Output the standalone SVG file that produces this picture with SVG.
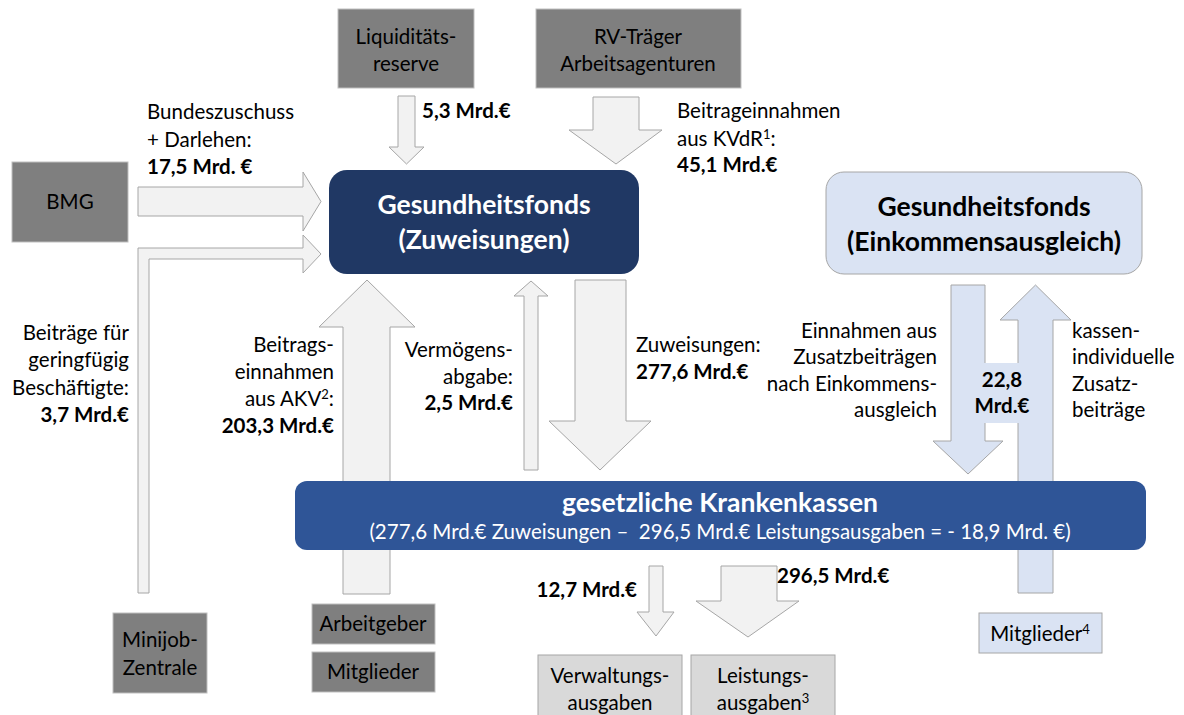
<svg xmlns="http://www.w3.org/2000/svg" width="1184" height="715" viewBox="0 0 1184 715">
  <style>
    text { font-family: Lato, "Liberation Sans", sans-serif; font-size: 20.5px; fill: #000; }
    .b { font-weight: bold; }
    .c { text-anchor: middle; }
    .r { text-anchor: end; }
    .w { fill: #fff; }
    .h { font-size: 26.5px; font-weight: bold; }
    .sup { font-size: 13px; }
    .arrow { fill: #f2f2f2; stroke: #a6a6a6; stroke-width: 1; }
    .arrowb { fill: #dae3f3; stroke: #a6a6a6; stroke-width: 1; }
    .grey { fill: #7f7f7f; stroke: #bfbfbf; stroke-width: 1; }
    .light { fill: #d9d9d9; stroke: #a6a6a6; stroke-width: 1; }
    .pale { fill: #dae3f3; stroke: #a6a6a6; stroke-width: 1; }
  </style>

  <!-- flow arrows -->
  <g id="connectors">
    <polygon class="arrow" points="138,187 303,187 303,172 321,201.5 303,231 303,216 138,216"/>
    <polygon class="arrow" points="138,593 138,248 303,248 303,235 321,254 303,273 303,259 149,259 149,593"/>
    <polygon class="arrow" points="398,96 415,96 415,147 424,147 406.5,164 389,147 398,147"/>
    <polygon class="arrow" points="593,97 639,97 639,130 662,130 616,164 569,130 593,130"/>
    <polygon class="arrow" points="343,594 343,327 319,327 367,280 415,327 390,327 390,594"/>
    <polygon class="arrow" points="524,470 524,296 514,296 531,281 548,296 538,296 538,470"/>
    <polygon class="arrow" points="575,280 626,280 626,421 651,421 600,470 549,421 575,421"/>
    <polygon class="arrow" points="649,566 663,566 663,612 674,612 656,636 637,612 649,612"/>
    <polygon class="arrow" points="721,566 777,566 777,601 799,601 748,637 696,601 721,601"/>
    <polygon class="arrowb" points="951,285 985,285 985,441 1003,441 968,474 933,441 951,441"/>
    <polygon class="arrowb" points="1018,593 1018,320 1000,320 1035.5,285 1071,320 1053,320 1053,593"/>
    <rect x="976" y="363" width="52" height="60" fill="#dae3f3"/>

    <!-- flow labels -->
    <text x="147" y="119">Bundeszuschuss</text>
    <text x="147" y="147">+ Darlehen:</text>
    <text x="147" y="174" class="b">17,5 Mrd. €</text>

    <text x="422" y="118" class="b">5,3 Mrd.€</text>

    <text x="677" y="118">Beitrageinnahmen</text>
    <text x="677" y="146">aus KVdR<tspan class="sup" dy="-7">1</tspan><tspan dy="7">:</tspan></text>
    <text x="677" y="172" class="b">45,1 Mrd.€</text>

    <text x="129" y="340" class="r">Beiträge für</text>
    <text x="129" y="367" class="r">geringfügig</text>
    <text x="129" y="395" class="r">Beschäftigte:</text>
    <text x="129" y="422" class="r b">3,7 Mrd.€</text>

    <text x="334" y="352" class="r">Beitrags-</text>
    <text x="334" y="379" class="r">einnahmen</text>
    <text x="334" y="406" class="r">aus AKV<tspan class="sup" dy="-7">2</tspan><tspan dy="7">:</tspan></text>
    <text x="334" y="433" class="r b">203,3 Mrd.€</text>

    <text x="513" y="357" class="r">Vermögens-</text>
    <text x="513" y="384" class="r">abgabe:</text>
    <text x="513" y="410" class="r b">2,5 Mrd.€</text>

    <text x="636" y="352">Zuweisungen:</text>
    <text x="636" y="379" class="b">277,6 Mrd.€</text>

    <text x="937" y="338" class="r">Einnahmen aus</text>
    <text x="937" y="364" class="r">Zusatzbeiträgen</text>
    <text x="937" y="391" class="r">nach Einkommens-</text>
    <text x="937" y="417" class="r">ausgleich</text>

    <text x="1002" y="387" class="c b">22,8</text>
    <text x="1002" y="413" class="c b">Mrd.€</text>

    <text x="1072" y="338">kassen-</text>
    <text x="1072" y="364">individuelle</text>
    <text x="1072" y="391">Zusatz-</text>
    <text x="1072" y="417">beiträge</text>

    <text x="637" y="597" class="r b">12,7 Mrd.€</text>
    <text x="777" y="583" class="b">296,5 Mrd.€</text>
  </g>

  <g id="liquiditaetsreserve">
    <rect class="grey" x="338" y="9" width="136" height="79"/>
    <text x="406" y="44" class="c">Liquiditäts-</text>
    <text x="406" y="71" class="c">reserve</text>
  </g>

  <g id="rv-traeger">
    <rect class="grey" x="536" y="9" width="205" height="79"/>
    <text x="638" y="44" class="c">RV-Träger</text>
    <text x="638" y="71" class="c">Arbeitsagenturen</text>
  </g>

  <g id="bmg">
    <rect class="grey" x="12" y="162" width="116" height="80"/>
    <text x="70" y="209" class="c">BMG</text>
  </g>

  <g id="fonds-zuweisungen">
    <rect x="329" y="170" width="310" height="104" rx="18" fill="#203864"/>
    <text x="484" y="214" class="c h w">Gesundheitsfonds</text>
    <text x="484" y="249" class="c h w">(Zuweisungen)</text>
  </g>

  <g id="fonds-einkommensausgleich">
    <rect class="pale" x="826" y="172" width="316" height="102" rx="18"/>
    <text x="984" y="216" class="c h">Gesundheitsfonds</text>
    <text x="984" y="251" class="c h">(Einkommensausgleich)</text>
  </g>

  <g id="krankenkassen">
    <rect x="295" y="481" width="851" height="69" rx="12" fill="#2f5597"/>
    <text x="720" y="512" class="c w h">gesetzliche Krankenkassen</text>
    <text x="720" y="539" class="c w">(277,6 Mrd.€ Zuweisungen –&#160; 296,5 Mrd.€ Leistungsausgaben = - 18,9 Mrd. €)</text>
  </g>

  <g id="minijob-zentrale">
    <rect class="grey" x="113" y="613" width="94" height="80"/>
    <text x="160" y="647" class="c">Minijob-</text>
    <text x="160" y="675" class="c">Zentrale</text>
  </g>

  <g id="arbeitgeber">
    <rect class="grey" x="312" y="604" width="123" height="40"/>
    <text x="373" y="631" class="c">Arbeitgeber</text>
  </g>

  <g id="mitglieder">
    <rect class="grey" x="312" y="652" width="123" height="40"/>
    <text x="373" y="679" class="c">Mitglieder</text>
  </g>

  <g id="verwaltungsausgaben">
    <rect class="light" x="538" y="655" width="144" height="65"/>
    <text x="610" y="683" class="c">Verwaltungs-</text>
    <text x="610" y="710" class="c">ausgaben</text>
  </g>

  <g id="leistungsausgaben">
    <rect class="light" x="691" y="655" width="144" height="65"/>
    <text x="763" y="683" class="c">Leistungs-</text>
    <text x="763" y="710" class="c">ausgaben<tspan class="sup" dy="-7">3</tspan></text>
  </g>

  <g id="mitglieder-zusatz">
    <rect class="pale" x="979" y="613" width="123" height="40"/>
    <text x="1040" y="641" class="c">Mitglieder<tspan class="sup" dy="-7">4</tspan></text>
  </g>
</svg>
